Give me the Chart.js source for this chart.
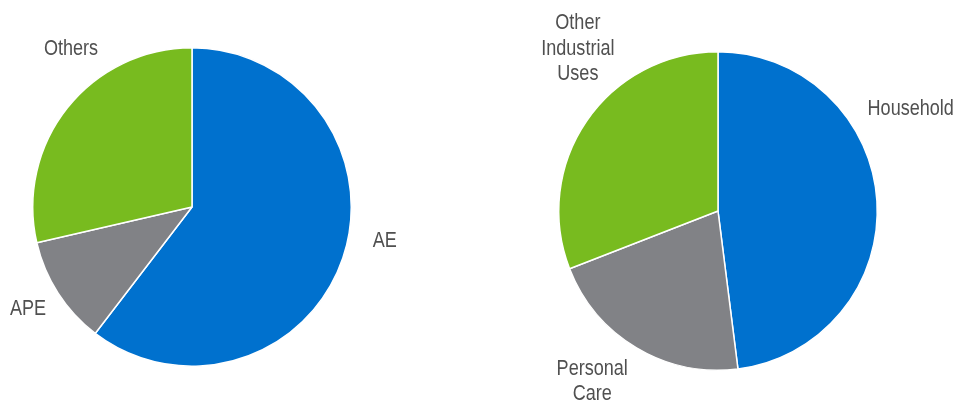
<!DOCTYPE html>
<html>
<head>
<meta charset="utf-8">
<script src="https://cdn.jsdelivr.net/npm/chart.js@4/dist/chart.umd.min.js"></script>
<style>
    html, body { margin: 0; padding: 0; background: #fff; }
    #wrap { position: relative; width: 957px; height: 403px; }
    #leftBox { position: absolute; left: 0; top: 0; width: 480px; height: 403px; }
    #rightBox { position: absolute; left: 384px; top: 0; width: 573px; height: 403px; }
</style>
</head>
<body>
<div id="wrap">
    <div id="leftBox"><canvas id="leftChart"></canvas></div>
    <div id="rightBox"><canvas id="rightChart"></canvas></div>
</div>
<script>
'use strict';

// left pie: end uses
var leftLabels = ['AE', 'APE', 'Others'];
var leftValues = [60.4, 11.0, 28.6];

// right pie: applications
var rightLabels = ['Household', ['Personal', 'Care'], ['Other', 'Industrial', 'Uses']];
var rightValues = [48.0, 21.1, 30.9];

var sliceColors = ['#0071ce', '#818286', '#78bb1f'];

// label placement, in units of the pie radius from the centre
var leftLabelOffsets = [[1.21, 0.21], [-1.03, 0.64], [-0.76, -0.99]];
var rightLabelOffsets = [[1.21, -0.64], [-0.79, 1.07], [-0.88, -1.02]];

var FONT = '"Liberation Sans", Arial, sans-serif';
var NARROW = 0.82; // squeeze text horizontally, no narrow face installed

function outsideLabels(offsets) {
    return {
        id: 'outsideLabels',
        afterDraw: function (chart) {
            var ctx = chart.ctx;
            var arc = chart.getDatasetMeta(0).data[0];
            var cx = arc.x, cy = arc.y, r = arc.outerRadius;
            var labels = chart.data.labels;
            var i, j, lines, x, y, lh = 25.5;

            ctx.save();
            ctx.font = '22px ' + FONT;
            ctx.fillStyle = '#505050';
            ctx.textAlign = 'center';
            ctx.textBaseline = 'middle';
            ctx.scale(NARROW, 1);
            for (i = 0; i < labels.length; i++) {
                lines = Array.isArray(labels[i]) ? labels[i] : [labels[i]];
                x = cx + offsets[i][0] * r;
                y = cy + offsets[i][1] * r - (lines.length - 1) * lh / 2;
                for (j = 0; j < lines.length; j++) {
                    ctx.fillText(lines[j], x / NARROW, y + j * lh);
                }
            }
            ctx.restore();
        }
    };
}

function makePie(id, labels, values, padding, offsets) {
    return new Chart(document.getElementById(id), {
        type: 'pie',
        data: {
            labels: labels,
            datasets: [{
                data: values,
                backgroundColor: sliceColors,
                borderColor: '#ffffff',
                borderWidth: 1.5
            }]
        },
        options: {
            responsive: true,
            maintainAspectRatio: false,
            animation: false,
            layout: { padding: padding },
            plugins: {
                legend: { display: false },
                tooltip: { enabled: false }
            }
        },
        plugins: [outsideLabels(offsets)]
    });
}

makePie('leftChart', leftLabels, leftValues,
    { top: 47, bottom: 36, left: 32, right: 128 }, leftLabelOffsets);
makePie('rightChart', rightLabels, rightValues,
    { top: 51, bottom: 32, left: 174, right: 79 }, rightLabelOffsets);
</script>
</body>
</html>
